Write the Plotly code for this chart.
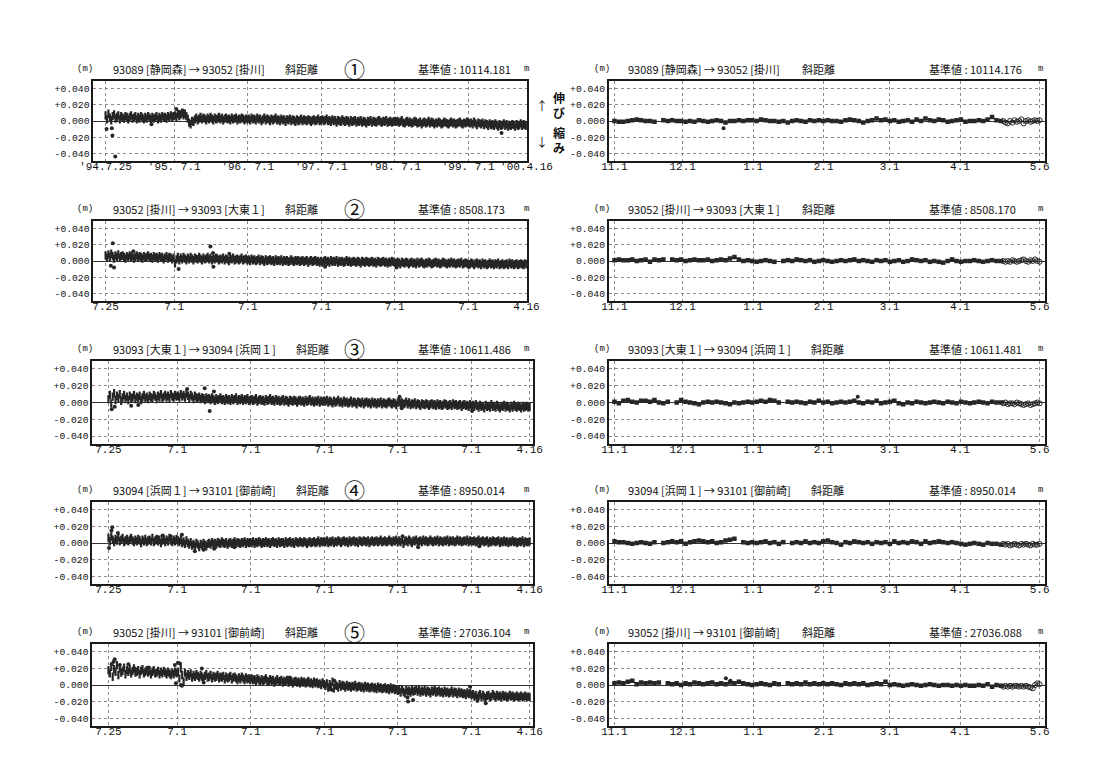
import pandas as pd
import plotly.graph_objects as go

W, H = 1097, 761

# ---------------- data ----------------
LONG_START, LONG_END = "1994-07-25", "2000-04-16"          # weekly observations (mm)
FINAL_START, FINAL_END = "1999-11-01", "2000-04-19"        # final solutions, every 2 days (mm)
QUICK_START, QUICK_END = "2000-04-20", "2000-05-06"        # rapid solutions, daily (mm)

baselines = [
    "93089 [静岡森] → 93052 [掛川]",
    "93052 [掛川] → 93093 [大東１]",
    "93093 [大東１] → 93094 [浜岡１]",
    "93094 [浜岡１] → 93101 [御前崎]",
    "93052 [掛川] → 93101 [御前崎]",
]
long_ref = ["10114.181", "8508.173", "10611.486", "8950.014", "27036.104"]
short_ref = ["10114.176", "8508.170", "10611.481", "8950.014", "27036.088"]
circled = ["①", "②", "③", "④", "⑤"]

long_ticks = ["1994-07-25", "1995-07-01", "1996-07-01", "1997-07-01", "1998-07-01", "1999-07-01", "2000-04-16"]
long_labels_first = ["'94.7.25", "'95. 7.1", "'96. 7.1", "'97. 7.1", "'98. 7.1", "'99. 7.1", "'00.4.16"]
long_labels = ["7.25", "7.1", "7.1", "7.1", "7.1", "7.1", "4.16"]
short_ticks = ["1999-11-01", "1999-12-01", "2000-01-01", "2000-02-01", "2000-03-01", "2000-04-01", "2000-05-06"]
short_labels = ["11.1", "12.1", "1.1", "2.1", "3.1", "4.1", "5.6"]
y_ticks = [0.04, 0.02, 0.0, -0.02, -0.04]
y_labels = ["+0.040", "+0.020", "0.000", "-0.020", "-0.040"]

# --- long-term series (mm) ---
p1_long = [7, 2, 9, 4, 1, 6, 8, 3, 5, 7, 2, 6, 4, 3, 6, 5, 2, 5, 7, 3, 4, 6, 2, 5, 3, 6, 4, 2, 5, 3, 6, 4, 2, 5, 3, 4, 6, 2, 5, 3, 6, 4, 5, 3, 6, 4, 7, 5, 6,
           7, 5, 9, 6, 8, 10, 7, 9, 6, 3, -2, -4, 0, -1, 2, 4, 1, 3, 5, 2, 4, 3, 1, 4, 2, 5, 3, 1, 4, 2, 3, 5, 2, 4, 1, 3, 4, 2, 3, 1, 4, 2, 3, 4, 1, 3, 2, 4, 3, 1, 3, 2,
           3, 1, 4, 2, 3, 1, 4, 2, 3, 0, 2, 4, 1, 3, 2, 0, 3, 1, 2, 4, 1, 2, 0, 3, 1, 2, -1, 2, 1, 3, 0, 2, 1, -1, 2, 0, 1, 3, 0, 2, 1, 0, 2, 1, -1, 1, 2, 0, 1, 3, 0, 1,
           2, 0, 1, 3, 0, 1, -1, 2, 0, 1, -2, 1, 0, -1, 2, 0, -1, 1, 0, -2, 1, -1, 0, 1, -2, 0, -1, 1, -2, 0, -1, -3, 0, -1, 1, -2, 0, -1, -2, 0, 1, -1, -2, 0, -1, 1, -2, -1, 0, -2, -1, 0,
           -1, 0, -2, -1, 1, -2, -3, -1, 0, -2, -1, -3, -2, 0, -1, -3, -2, -1, -4, -2, -1, -3, -2, 0, -3, -1, -2, -4, -2, -3, -1, -2, -4, -3, -1, -2, -3, -4, -2, -1, -3, -2, -4, -3, -2, -1, -3, -4, -2, -3, -1, -2,
           -3, -2, -4, -1, -3, -5, -2, -3, -4, -2, -5, -3, -4, -6, -3, -5, -4, -6, -3, -5, -7, -4, -6, -5, -3, -6, -4, -7, -5, -6, -4, -5, -7, -4, -6, -5, -3, -6, -4, -5, -6]
p2_long = [7, 4, 8, 5, 9, 6, 3, 7, 5, 8, 4, 6, 7, 5, 3, 6, 4, 7, 5, 6, 3, 5, 7, 4, 6, 5, 3, 6, 4, 5, 7, 4, 5, 3, 6, 4, 5, 3, 6, 4, 5, 2, 4, 6, 3, 5, 4, 2, 4,
           -3, 2, 5, 1, 4, 2, 5, 3, 1, 4, 2, 5, 3, 1, 4, 3, 2, 5, 3, 1, 4, 2, 3, 5, 2, 4, 1, 3, 2, 4, 3, 1, 3, 2, 4, 1, 3, 2, 0, 3, 2, 4, 1, 2, 3, 1, 2, 4, 1, 2, 3, 1,
           2, 0, 3, 1, 2, 0, 1, 3, 0, 2, 1, -1, 2, 0, 1, 2, 0, 1, -1, 2, 0, 1, 0, 2, -1, 1, 0, 1, -1, 0, 2, 0, -1, 1, 0, 1, -1, 0, 1, -1, 0, 1, -2, 0, 1, -1, 0, 1, -1, 0, -2, 0,
           -2, 0, 1, -1, 0, -2, 1, -1, 0, -1, 1, -2, 0, -1, 0, -2, -1, 1, -1, 0, -2, -1, 0, -1, -2, 0, -1, -3, 0, -1, -2, 0, -1, -2, -1, 0, -2, -1, -3, 0, -1, -2, -1, 0, -2, -1, -3, -1, -2, 0, -1, -2,
           -3, -1, -2, -4, -1, -2, -3, -1, -2, -4, -2, -1, -3, -2, -4, -1, -3, -2, -1, -3, -4, -2, -3, -1, -2, -4, -3, -2, -1, -3, -2, -4, -3, -1, -2, -3, -4, -2, -3, -1, -3, -2, -4, -3, -2, -3, -1, -4, -3, -2, -3, -4,
           -4, -2, -3, -5, -3, -2, -4, -3, -5, -2, -4, -3, -5, -4, -2, -4, -3, -5, -3, -4, -2, -5, -4, -3, -5, -4, -3, -5, -2, -4, -3, -5, -4, -3, -5, -4, -3, -4, -5, -3, -4]
p3_long = [4, 9, -1, 7, 11, 3, 8, 5, 10, 2, 6, 9, 4, 7, 3, 8, 5, 6, 9, 4, 7, 5, 8, 3, 6, 9, 5, 7, 4, 8, 6, 5, 9, 7, 4, 8, 6, 10, 5, 7, 9, 6, 8, 5, 10, 7, 6, 9, 7,
           8, 6, 10, 7, 9, 6, 11, 8, 5, 9, 7, 4, 8, 6, 5, 7, 4, 6, 5, 3, 6, 4, 5, 3, 6, 4, 2, 5, 3, 4, 6, 3, 4, 2, 5, 3, 4, 2, 5, 3, 4, 6, 2, 4, 3, 5, 2, 4, 3, 5, 2, 3,
           4, 2, 3, 5, 1, 3, 4, 2, 3, 1, 4, 2, 3, 5, 2, 3, 1, 4, 2, 3, 1, 2, 4, 1, 3, 2, 0, 3, 2, 1, 3, 2, 0, 2, 3, 1, 2, 0, 3, 1, 2, 4, 1, 2, 0, 2, 1, 3, 0, 2, 1, 2,
           1, 3, 0, 2, 1, -1, 2, 0, 1, 3, 0, 1, -1, 2, 0, 1, -1, 0, 2, -1, 1, 0, -2, 1, 0, -1, 1, -2, 0, 1, -1, 0, -2, 1, -1, 0, -2, 0, -1, 1, -2, 0, -1, -2, 0, 1, -1, -2, 0, -1, -3, 0,
           1, -1, 0, -2, -1, 1, -2, 0, -3, -1, -2, 0, -3, -1, -2, -4, -1, -2, -3, -1, -2, -4, -2, -1, -3, -2, -4, -1, -3, -2, -4, -3, -1, -2, -4, -3, -2, -4, -1, -3, -2, -4, -3, -2, -5, -3, -2, -4, -3, -5, -2, -4,
           -3, -5, -2, -4, -6, -3, -5, -4, -7, -3, -5, -4, -6, -2, -5, -4, -6, -3, -5, -7, -4, -5, -3, -6, -4, -5, -7, -4, -6, -3, -5, -6, -4, -5, -7, -4, -6, -5, -4, -6, -5]
p4_long = [6, 2, 8, 4, 1, 5, 3, 7, 2, 4, 6, 1, 3, 5, 2, 4, 6, 3, 1, 4, 2, 5, 3, 0, 4, 2, 5, 1, 3, 4, 2, 6, 1, 3, 5, 2, 4, 0, 3, 5, 1, 4, 2, 6, 3, 1, 4, 2, 5,
           3, 1, 4, 0, 2, -1, 3, 0, -2, 1, -3, -1, -4, 0, -2, -5, -1, -3, 0, -2, -4, -1, 0, -2, 1, -1, 0, -2, 1, 0, -1, 2, 0, -1, 1, -2, 0, 1, -1, 0, 2, -1, 1, 0, -1, 1, 0, 2, -1, 1, 0, 1,
           0, 2, -1, 1, 0, 2, 1, -1, 1, 0, 2, 0, 1, -1, 1, 2, 0, 1, -1, 2, 0, 1, 1, -1, 2, 0, 1, 2, 0, 1, -1, 2, 1, 0, 2, 1, 0, 2, 1, -1, 1, 2, 0, 1, 2, 0, 1, 3, 0, 2, 1, 2,
           1, 3, 0, 2, 1, 3, 0, 2, 1, 3, 2, 0, 2, 3, 1, 2, 0, 3, 1, 2, 3, 1, 2, 0, 3, 2, 1, 3, 2, 1, 3, 0, 2, 3, 1, 2, 3, 1, 2, 4, 1, 2, 3, 1, 2, 4, 2, 1, 3, 2, 4, 1,
           3, 1, 4, -1, 2, 3, 1, 4, 2, 0, 3, 2, 4, 1, 2, 3, 1, 4, 2, 3, 1, 2, 4, 2, 1, 3, 2, 4, 1, 3, 2, 1, 3, 2, 4, 1, 3, 2, 3, 1, 2, 4, 2, 3, 1, 2, 3, 2, 4, 1, 3, 2,
           2, 3, 1, 2, 4, 1, 2, 3, 1, 2, 3, 0, 2, 1, 3, 2, 1, 2, 3, 0, 2, 1, 3, 1, 2, 0, 2, 1, 3, 1, 2, 0, 1, 2, 1, 3, 0, 2, 1, 1, 2]
p5_long = [18, 14, 22, 10, 19, 16, 24, 12, 20, 15, 17, 21, 13, 18, 16, 19, 14, 17, 20, 15, 16, 18, 13, 17, 19, 14, 16, 18, 15, 17, 13, 16, 18, 14, 15, 17, 13, 16, 14, 17, 15, 13, 16, 14, 12, 15, 13, 16, 14,
           16, 8, 20, 12, 4, 15, 10, 13, 11, 14, 9, 12, 10, 13, 11, 9, 12, 10, 8, 11, 13, 9, 10, 12, 8, 11, 9, 10, 12, 8, 10, 9, 11, 7, 10, 8, 9, 11, 7, 9, 10, 8, 6, 9, 7, 10, 8, 6, 9, 7, 8, 6,
           8, 6, 7, 5, 8, 6, 4, 7, 5, 6, 8, 5, 4, 7, 5, 6, 3, 5, 7, 4, 5, 6, 3, 5, 4, 6, 3, 4, 5, 2, 4, 5, 3, 4, 2, 5, 3, 4, 2, 3, 5, 2, 3, 1, 4, 2, 3, 1, 2, 0, 3, 1,
           -1, 2, -3, 1, -2, 4, -4, 0, -1, -3, 1, -2, 0, -1, -3, 0, -2, -1, -3, -1, -2, 0, -3, -2, -1, -3, -2, -4, -1, -3, -2, -4, -3, -2, -4, -3, -5, -2, -4, -3, -5, -4, -3, -5, -4, -6, -3, -5, -4, -6, -5, -7,
           -6, -9, -5, -8, -10, -6, -8, -7, -9, -6, -8, -7, -5, -8, -6, -9, -7, -8, -6, -9, -7, -8, -10, -7, -8, -6, -9, -8, -7, -9, -8, -10, -7, -9, -8, -10, -9, -7, -10, -8, -9, -11, -8, -10, -9, -11, -10, -12, -9, -11, -10, -12,
           -11, -14, -12, -16, -13, -11, -15, -12, -14, -16, -13, -12, -15, -14, -11, -13, -15, -12, -14, -13, -15, -12, -14, -13, -15, -14, -12, -14, -13, -15, -14, -13, -15, -14, -13, -15, -14, -13, -15, -14, -15]

# isolated outliers on the long-term plots (date, mm)
p1_out_dates = ["1994-07-30", "1994-08-25", "1994-08-28", "1994-09-11", "1995-07-11", "1995-07-25", "1995-08-12", "1995-03-10", "1999-12-14"]
p1_out_vals = [-10, -9, -18, -44, 15, 11, 13, -4, -15]
p2_out_dates = ["1994-08-30", "1994-09-05", "1994-08-20", "1994-12-10", "1995-07-23", "1995-12-28", "1996-01-10", "1996-01-12", "1996-03-31", "1997-07-20", "1998-07-10", "1999-07-05"]
p2_out_vals = [22, -8, -6, 12, -10, 18, 10, -7, 9, -7, -8, -7]
p3_out_dates = ["1994-08-10", "1994-08-25", "1994-11-15", "1995-08-20", "1995-11-15", "1995-12-10", "1995-12-31", "1998-07-10", "1998-07-20", "1999-07-05", "1994-12-20"]
p3_out_vals = [-8, -5, -4, 16, 17, -10, 13, 7, -7, -10, -3]
p4_out_dates = ["1994-07-28", "1994-08-09", "1994-08-13", "1994-09-10", "1995-04-20", "1995-07-25", "1995-05-30", "1995-09-27", "1995-11-10", "1996-01-01", "1996-04-10", "1998-07-25", "1998-10-10", "1999-08-10", "1995-03-25"]
p4_out_vals = [-6, 15, 19, 12, 9, 10, 8, -10, -8, -7, -5, 8, -5, -4, 7]
p5_out_dates = ["1994-08-25", "1994-08-20", "1994-08-10", "1994-09-20", "1994-11-01", "1994-12-01", "1995-02-10", "1995-06-20", "1995-07-05", "1995-07-15", "1995-06-25", "1995-07-20", "1995-07-25",
                "1995-11-01", "1995-11-10", "1996-02-01", "1997-01-10", "1997-08-10", "1997-07-25", "1997-08-20", "1998-08-18", "1998-08-21", "1998-09-15", "1999-01-05", "1999-06-25", "1999-09-11", "1999-08-01"]
p5_out_vals = [31, 28, 25, 24, 25, 20, 21, 24, 27, 26, 2, 0, -1, 20, 3, 12, 9, -6, -5, 5, -15, -20, -18, -5, -2, -22, -19]

# --- recent half-year series (mm) ---
r1_final = [0, -1, -1, 0, 1, 2, 1, 0, 0, -1, None, 1, 0, 1, 0,
            0, -1, 0, -1, 1, 0, -1, 0, 1, 0, -2, 0, 0, 1, 0, 1,
            1, 0, 2, 1, 0, 0, -1, 0, -2, 0, 1, 0, -1, 1, 0, 1,
            0, 1, 0, 0, -1, 1, 2, 1, 0, -2, 0, 1, 3, 1, 2,
            0, 1, -1, 0, 1, -1, 2, 0, 3, 1, 0, 2, 1, -1, 0, 1,
            2, -1, 0, 0, 1, 0, 2, 5, 1, 0]
r1_quick = [0, -2, -3, 0, -2, 1, -1, 0, 2, -3, 0, 1, -1, 0, 1, 0, 1]
r2_final = [1, 2, 1, 1, 2, 0, 1, 2, -1, 2, 1, 2, None, 2, 1,
            2, 0, 1, 2, 1, 1, 2, 0, 1, 2, 1, 3, 5, 2, 0, 1,
            0, -1, 0, 1, 0, -1, None, 0, 1, 0, 2, 1, 0, 1, -1, 0,
            1, 0, -1, 0, 1, 0, 1, 2, 0, 1, 0, -1, 1, 0, 1,
            -1, 0, 1, -1, 0, 2, 1, 0, 1, -1, 0, -1, -2, 0, 2, 0,
            -1, 0, 0, 1, 0, -1, 0, 1, 0, 0]
r2_quick = [0, -1, 0, -1, 1, 0, -1, 0, 1, 2, 0, -1, 1, 0, 2, 0, -1]
r3_final = [1, -1, 2, 3, 1, 0, 2, 2, 1, 3, 0, -1, 1, None, 0,
            3, 1, 0, -1, -2, 0, 1, 0, 1, 0, -1, -2, 0, -1, 0, 1,
            0, 1, 2, 1, 3, 2, 0, None, 1, 0, 1, 0, -1, 1, 0, 2,
            0, 1, -1, 0, 1, 0, 1, 2, 0, -1, 1, 0, 2, -1, 0,
            1, 2, -1, -2, 0, -1, 1, 0, -1, 0, 1, 0, -1, 1, 0, -1,
            1, 0, -1, 0, 1, 0, -1, 1, 0, 0]
r3_quick = [-1, 0, -2, -1, -1, -2, 0, -1, -2, -3, -2, -1, -3, -2, -1, 0, -1]
r4_final = [2, 1, 1, 0, -1, 0, 1, 0, -1, 1, None, 0, 1, 2, 1,
            2, -1, 1, 2, 3, 2, 1, 2, 0, 1, 3, 4, 5, None, 1, 0,
            1, 0, 1, 2, 0, 1, -1, 1, None, 0, 1, 0, 2, 0, 1, 0,
            2, 3, 1, 0, -2, 1, 0, 2, 1, 0, 1, -1, 1, 0, 1,
            -1, 2, 0, 1, 0, 2, 1, -1, 2, 0, 1, 2, 1, 0, 1, 0,
            -1, -2, -1, 0, -1, -2, 0, -1, -1, -2]
r4_quick = [-1, -2, -1, -3, -2, -1, -2, -3, -1, -2, -1, -2, -3, -1, -2, -2, -1]
r5_final = [2, 3, 2, 4, 5, 1, 3, 2, 3, 2, 3, None, 2, 1, 2,
            0, 2, 1, 3, 2, 1, 2, 3, 1, 2, 1, 3, 2, 4, 2, 1,
            0, 1, 2, 1, 0, 2, 1, None, 2, 1, 2, 1, 3, 1, 2, 1,
            2, 1, 2, 1, 0, 2, 1, 2, 1, 2, 0, 1, 2, 1, 4,
            0, 1, 0, -1, 0, 1, 0, -1, 0, 1, 0, -1, 0, 0, -1, 0,
            -1, 0, -1, -1, 0, -1, 1, -2, 0, -1]
r5_quick = [-2, -1, -2, -1, -2, -1, -1, -2, -1, -2, -1, -2, -3, -4, 0, 2, 1]

r1_out_dates, r1_out_vals = ["1999-12-19"], [-9]
r2_out_dates, r2_out_vals = [], []
r3_out_dates, r3_out_vals = ["2000-02-16"], [7]
r4_out_dates, r4_out_vals = [], []
r5_out_dates, r5_out_vals = ["1999-12-20", "1999-12-22"], [8, 5]

long_series = [p1_long, p2_long, p3_long, p4_long, p5_long]
long_outliers = [(p1_out_dates, p1_out_vals), (p2_out_dates, p2_out_vals), (p3_out_dates, p3_out_vals),
                 (p4_out_dates, p4_out_vals), (p5_out_dates, p5_out_vals)]
short_final = [r1_final, r2_final, r3_final, r4_final, r5_final]
short_quick = [r1_quick, r2_quick, r3_quick, r4_quick, r5_quick]
short_outliers = [(r1_out_dates, r1_out_vals), (r2_out_dates, r2_out_vals), (r3_out_dates, r3_out_vals),
                  (r4_out_dates, r4_out_vals), (r5_out_dates, r5_out_vals)]

# ---------------- layout geometry (pixels) ----------------
ROWS_Y = [(73, 153), (213, 293), (353, 436), (494, 576), (636, 718)]
LEFT_X = [(74, 524), (74, 524), (73, 530), (73, 530), (73, 530)]
LEFT_RANGE = [("1994-05-25", "2000-04-18"), ("1994-05-25", "2000-04-18"),
              ("1994-05-06", "2000-05-01"), ("1994-05-06", "2000-05-01"), ("1994-05-06", "2000-05-01")]
RIGHT_X = (609, 1062)
RIGHT_RANGE = ("1999-10-29 12:00", "2000-05-08 12:00")
KYORI_X_LEFT = [272, 272, 283, 283, 272]
KYORI_X_RIGHT = [808, 808, 818, 818, 808]

INK = "#262626"
GRID = "#8a8a8a"
NUMFONT = "Liberation Mono, DejaVu Sans Mono, monospace"
JPFONT = "Noto Sans CJK JP, Liberation Mono"


def mm(vals):
    return [None if v is None else v / 1000.0 for v in vals]


def px(x, y):
    return x / W, 1 - y / H


fig = go.Figure()
layout = dict(width=W, height=H, margin=dict(l=0, r=0, t=0, b=0),
              paper_bgcolor="white", plot_bgcolor="white", showlegend=False)
annotations = []


def axis_pair(n, xdom, ydom, xrange, tickvals, ticktext):
    xa = dict(domain=[xdom[0] / W, xdom[1] / W], anchor=f"y{n}", type="date",
              range=list(xrange), tickmode="array", tickvals=tickvals, ticktext=ticktext,
              showgrid=True, gridcolor=GRID, griddash="dot", gridwidth=1,
              showline=True, mirror=True, linecolor="#1a1a1a", linewidth=1.8,
              ticks="", zeroline=False, tickangle=0, ticklabelstandoff=-6,
              tickfont=dict(family=NUMFONT, size=11, color="#111"))
    ya = dict(domain=[1 - ydom[1] / H, 1 - ydom[0] / H], anchor=f"x{n}",
              range=[-0.0495, 0.0495], tickmode="array", tickvals=y_ticks, ticktext=y_labels,
              showgrid=True, gridcolor=GRID, griddash="dot", gridwidth=1,
              zeroline=True, zerolinecolor="#333", zerolinewidth=1.3,
              showline=True, mirror=True, linecolor="#1a1a1a", linewidth=1.8,
              ticks="", tickfont=dict(family=NUMFONT, size=9.7, color="#111"))
    key = "" if n == 1 else str(n)
    layout["xaxis" + key] = xa
    layout["yaxis" + key] = ya
    return ("x" + key, "y" + key)


def ann(x, y, text, size=11, anchor="center", family=JPFONT):
    ax, ay = px(x, y)
    annotations.append(dict(x=ax, y=ay, xref="paper", yref="paper", text=text, showarrow=False,
                            xanchor=anchor, yanchor="middle", borderpad=0,
                            font=dict(family=family, size=size, color="#111")))


for r in range(5):
    top, bot = ROWS_Y[r]
    # ---- left: long-term ----
    n = 2 * r + 1
    xr, yr = axis_pair(n, LEFT_X[r], ROWS_Y[r], LEFT_RANGE[r], long_ticks,
                       long_labels_first if r == 0 else long_labels)
    vals = long_series[r]
    dates = pd.date_range(LONG_START, LONG_END, periods=len(vals))
    fig.add_trace(go.Scatter(x=dates, y=mm(vals), mode="markers", xaxis=xr, yaxis=yr,
                             marker=dict(symbol="line-ns-open", size=6, color=INK,
                                         line=dict(width=2.2, color=INK)),
                             hoverinfo="skip"))
    od, ov = long_outliers[r]
    fig.add_trace(go.Scatter(x=pd.to_datetime(od), y=mm(ov), mode="markers", xaxis=xr, yaxis=yr,
                             marker=dict(symbol="circle", size=4, color=INK), hoverinfo="skip"))
    ty = top - 12
    ann(65, ty, "(m)", size=9, family=NUMFONT)
    ann(93, ty, baselines[r], size=11, anchor="left")
    ann(KYORI_X_LEFT[r], ty, "斜距離", size=11, anchor="left")
    ann(345, ty - 1, circled[r], size=21)
    ann(410, ty, "基準値 : " + long_ref[r], size=11, anchor="left")
    ann(524, ty, "m", size=9, family=NUMFONT)

    # ---- right: recent half year ----
    n = 2 * r + 2
    xr, yr = axis_pair(n, RIGHT_X, ROWS_Y[r], RIGHT_RANGE, short_ticks, short_labels)
    fv = short_final[r]
    fd = pd.date_range(FINAL_START, FINAL_END, periods=len(fv))
    fig.add_trace(go.Scatter(x=fd, y=mm(fv), mode="lines+markers", xaxis=xr, yaxis=yr,
                             line=dict(color=INK, width=1.4), connectgaps=False,
                             marker=dict(symbol="square", size=4.5, color=INK), hoverinfo="skip"))
    qv = short_quick[r]
    qd = pd.date_range(QUICK_START, QUICK_END, periods=len(qv))
    fig.add_trace(go.Scatter(x=qd, y=mm(qv), mode="lines+markers", xaxis=xr, yaxis=yr,
                             line=dict(color=INK, width=0.9),
                             marker=dict(symbol="circle-open", size=5, color=INK, line=dict(width=1)),
                             hoverinfo="skip"))
    od, ov = short_outliers[r]
    if od:
        fig.add_trace(go.Scatter(x=pd.to_datetime(od), y=mm(ov), mode="markers", xaxis=xr, yaxis=yr,
                                 marker=dict(symbol="circle", size=4, color=INK), hoverinfo="skip"))
    ann(602, ty, "(m)", size=9, family=NUMFONT)
    ann(628, ty, baselines[r], size=11, anchor="left")
    ann(KYORI_X_RIGHT[r], ty, "斜距離", size=11, anchor="left")
    ann(940, ty, "基準値 : " + short_ref[r], size=11, anchor="left")
    ann(1057, ty, "m", size=9, family=NUMFONT)

# extension / contraction legend between the two columns
ann(540, 97, "↑", size=12)
ann(557, 90, "<b>伸</b>", size=12)
ann(557, 104, "<b>び</b>", size=12)
ann(540, 133, "↓", size=12)
ann(557, 124, "<b>縮</b>", size=12)
ann(557, 139, "<b>み</b>", size=12)

layout["annotations"] = annotations
fig.update_layout(**layout)
fig.write_html("out.html")
